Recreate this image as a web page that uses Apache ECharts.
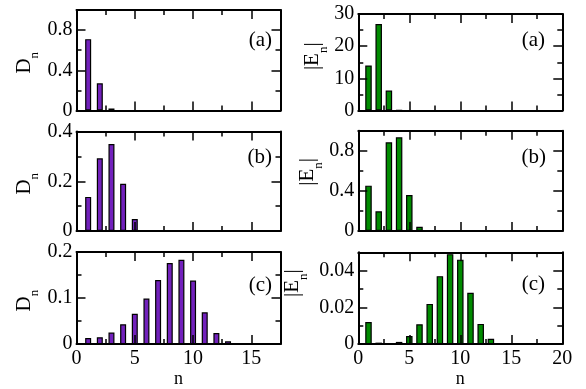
<!DOCTYPE html>
<html>
<head>
<meta charset="utf-8">
<script src="https://cdn.jsdelivr.net/npm/echarts@6/dist/echarts.min.js"></script>
<style>
  html, body { margin: 0; padding: 0; background: #fff; }
  #chart { width: 586px; height: 389px; }
</style>
</head>
<body>
<div id="chart"></div>
<script>
// values: n on the x axis, D_n (left) and |E_n| (right)
const nDa = [1, 2, 3];
const dnA = [0.71, 0.27, 0.02];
const nDb = [1, 2, 3, 4, 5, 6];
const dnB = [0.137, 0.292, 0.35, 0.19, 0.048, 0.004];
const nDc = [1, 2, 3, 4, 5, 6, 7, 8, 9, 10, 11, 12, 13];
const dnC = [0.013, 0.015, 0.025, 0.043, 0.066, 0.099, 0.139, 0.176, 0.183, 0.138, 0.069, 0.024, 0.006];

const nEa = [1, 2, 3, 4];
const enA = [14.0, 26.9, 6.2, 0.1];
const nEb = [1, 2, 3, 4, 5, 6];
const enB = [0.452, 0.196, 0.884, 0.934, 0.359, 0.043];
const nEc = [1, 2, 3, 4, 5, 6, 7, 8, 9, 10, 11, 12, 13, 14];
const enC = [0.012, 0.0008, 0.0002, 0.0012, 0.0044, 0.0108, 0.0219, 0.037, 0.049, 0.046, 0.028, 0.011, 0.0029, 0.0002];

// tick labels
const xTicksD = [0, 5, 10, 15];
const xTicksE = [0, 5, 10, 15, 20];
const yTicksDa = [0, 0.4, 0.8];
const yTicksDb = [0, 0.2, 0.4];
const yTicksDc = [0, 0.1, 0.2];
const yTicksEa = [0, 10, 20, 30];
const yTicksEb = [0, 0.4, 0.8];
const yTicksEc = [0, 0.02, 0.04];
const panelTags = ["(a)", "(b)", "(c)"];

const FONT = "'Liberation Serif', 'Times New Roman', serif";
const PURPLE = "#7221bc";
const GREEN = "#008b00";

const panels = [
  { grid: { left: 76.5, top: 10, width: 204, height: 100.5 }, n: nDa, v: dnA, xMax: 17.5, xTicks: xTicksD, yMax: 1.0, yTicks: yTicksDa, color: PURPLE, bw: 6, name: "{d|D}{s|n}", gap: 35, pad: [0, 5, 0, 0], tag: [272, 40, 0] },
  { grid: { left: 76.5, top: 131.5, width: 204, height: 99.5 }, n: nDb, v: dnB, xMax: 17.5, xTicks: xTicksD, yMax: 0.4, yTicks: yTicksDb, color: PURPLE, bw: 6, name: "{d|D}{s|n}", gap: 35, pad: [0, 5, 0, 0], tag: [272, 157, 1] },
  { grid: { left: 76.5, top: 252, width: 204, height: 99.5 }, n: nDc, v: dnC, xMax: 17.5, xTicks: xTicksD, yMax: 0.2, yTicks: yTicksDc, color: PURPLE, bw: 6, name: "{d|D}{s|n}", gap: 35, pad: [0, 5, 0, 0], bottomRow: true, tag: [272, 285, 2] },
  { grid: { left: 358.3, top: 14, width: 204, height: 96.5 }, n: nEa, v: enA, xMax: 20, xTicks: xTicksE, yMax: 30, yTicks: yTicksEa, color: GREEN, bw: 6.5, name: "{d||E}{s|n}{d||}", gap: 28, pad: [0, 0, 0, 12], tag: [545, 40, 0] },
  { grid: { left: 358.3, top: 130.7, width: 204, height: 100.3 }, n: nEb, v: enB, xMax: 20, xTicks: xTicksE, yMax: 1.0, yTicks: yTicksEb, color: GREEN, bw: 6.5, name: "{d||E}{s|n}{d||}", gap: 29, pad: [0, 0, 0, 18], tag: [546, 157, 1] },
  { grid: { left: 358.3, top: 252.3, width: 204, height: 99.2 }, n: nEc, v: enC, xMax: 20, xTicks: xTicksE, yMax: 0.05, yTicks: yTicksEc, color: GREEN, bw: 6.5, name: "{d||E}{s|n}{d||}", gap: 48, pad: [0, 0, 0, 30], bottomRow: true, tag: [545, 284, 2] },
];

const labelStyle = { fontFamily: FONT, fontSize: 20, color: "#000" };

const onlyTicks = (ticks) => (val) => {
  const v = parseFloat(Number(val).toFixed(6));
  return ticks.some((t) => Math.abs(t - v) < 1e-9) ? String(v) : "";
};

// two axes per side (major ticks + labels, minor ticks), mirrored on the opposite side
const makeAxes = (gi, max, ticks, dir, withLabels, extra) => {
  const step = ticks[1] - ticks[0];
  const sides = dir === "x" ? ["bottom", "top"] : ["left", "right"];
  const out = [];
  sides.forEach((pos, si) => {
    out.push(Object.assign({
      type: "value", gridIndex: gi, position: pos, min: 0, max: max, interval: step, z: 3,
      splitLine: { show: false },
      axisLine: { show: true, onZero: false, lineStyle: { color: "#000", width: 2 } },
      axisTick: { show: true, inside: true, length: 9, lineStyle: { color: "#000", width: 1.5 } },
      axisLabel: Object.assign({ show: si === 0 && withLabels, formatter: onlyTicks(ticks), margin: dir === "x" ? 5 : 4 }, labelStyle),
    }, si === 0 ? extra : {}));
    out.push({
      type: "value", gridIndex: gi, position: pos, min: 0, max: max, interval: step / 2, z: 3,
      splitLine: { show: false },
      axisLine: { show: false, onZero: false },
      axisTick: { show: true, inside: true, length: 5, lineStyle: { color: "#000", width: 1.5 } },
      axisLabel: { show: false },
    });
  });
  return out;
};

const grids = [];
const xAxes = [];
const yAxes = [];
const series = [];
const graphics = [];

panels.forEach((p, i) => {
  grids.push(Object.assign({ containLabel: false }, p.grid));
  const xExtra = p.bottomRow ? {
    name: "n", nameLocation: "middle", nameGap: 23,
    nameTextStyle: { fontFamily: FONT, fontSize: 18, color: "#000" },
  } : {};
  const yExtra = {
    name: p.name, nameLocation: "middle", nameRotate: 90, nameGap: p.gap,
    nameTextStyle: {
      fontFamily: FONT, fontSize: 21, color: "#000", padding: p.pad,
      rich: {
        d: { fontFamily: FONT, fontSize: 21, color: "#000", verticalAlign: "top" },
        s: { fontFamily: FONT, fontSize: 13, color: "#000", verticalAlign: "top", padding: [15, 0, 0, 0] },
      },
    },
  };
  xAxes.push(...makeAxes(i, p.xMax, p.xTicks, "x", !!p.bottomRow, xExtra));
  yAxes.push(...makeAxes(i, p.yMax, p.yTicks, "y", true, yExtra));
  series.push({
    type: "bar",
    xAxisIndex: i * 4,
    yAxisIndex: i * 4,
    data: p.n.map((n, k) => [n, p.v[k]]),
    barWidth: p.bw,
    itemStyle: { color: p.color, borderColor: "#000", borderWidth: 1.2 },
    silent: true,
  });
  graphics.push({
    type: "text", x: p.tag[0], y: p.tag[1],
    style: { text: panelTags[p.tag[2]], fontFamily: FONT, fontSize: 21, fill: "#000", align: "right", verticalAlign: "middle" },
  });
});

const chart = echarts.init(document.getElementById("chart"), null, { renderer: "canvas" });
chart.setOption({
  animation: false,
  backgroundColor: "#fff",
  grid: grids,
  xAxis: xAxes,
  yAxis: yAxes,
  series: series,
  graphic: graphics,
});
window.addEventListener("resize", () => chart.resize());
</script>
</body>
</html>
